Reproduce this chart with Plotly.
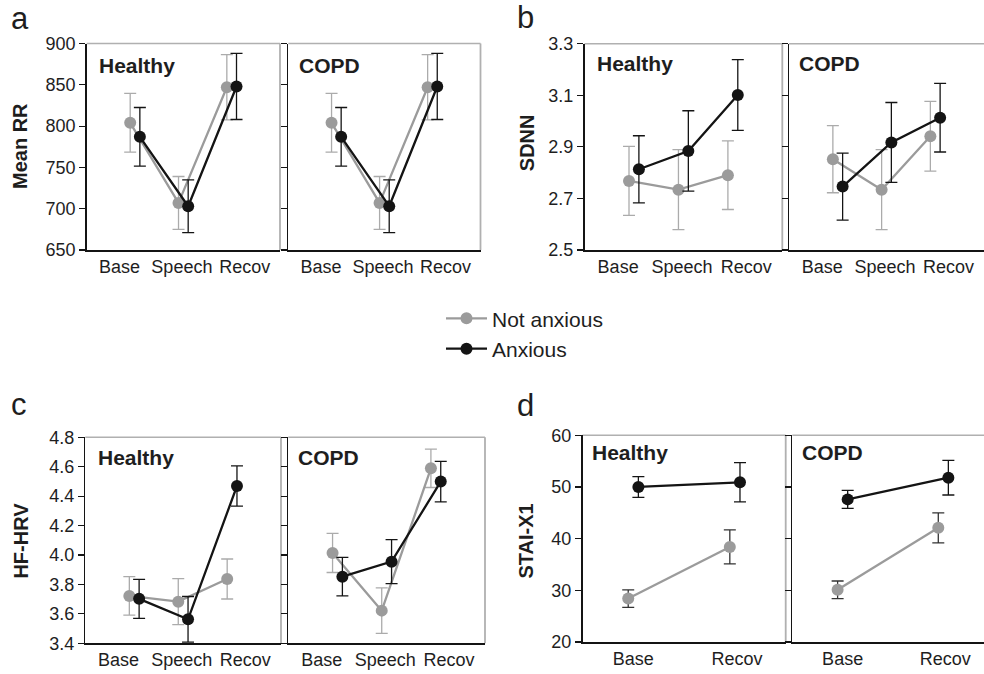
import plotly.graph_objects as go

# ---------------- data ----------------
cats3 = ["Base", "Speech", "Recov"]
cats2 = ["Base", "Recov"]
groups = ["Healthy", "COPD"]
series_names = ["Not anxious", "Anxious"]

# Mean RR
rr_healthy_not = [804, 707, 847]
rr_healthy_not_err = [35.5, 32, 39.5]
rr_healthy_anx = [787, 703, 848]
rr_healthy_anx_err = [35.5, 32, 40]
rr_copd_not = [804, 707, 847]
rr_copd_not_err = [35.5, 32, 39.5]
rr_copd_anx = [787, 703, 848]
rr_copd_anx_err = [35.5, 32, 40]

# SDNN
sdnn_healthy_not = [2.768, 2.734, 2.790]
sdnn_healthy_not_err = [0.134, 0.155, 0.133]
sdnn_healthy_anx = [2.813, 2.884, 3.101]
sdnn_healthy_anx_err = [0.130, 0.156, 0.137]
sdnn_copd_not = [2.852, 2.734, 2.941]
sdnn_copd_not_err = [0.130, 0.155, 0.135]
sdnn_copd_anx = [2.746, 2.917, 3.013]
sdnn_copd_anx_err = [0.130, 0.155, 0.133]

# HF-HRV
hf_healthy_not = [3.722, 3.683, 3.837]
hf_healthy_not_err = [0.131, 0.156, 0.136]
hf_healthy_anx = [3.702, 3.563, 4.469]
hf_healthy_anx_err = [0.132, 0.155, 0.137]
hf_copd_not = [4.014, 3.622, 4.589]
hf_copd_not_err = [0.133, 0.155, 0.130]
hf_copd_anx = [3.853, 3.955, 4.499]
hf_copd_anx_err = [0.131, 0.150, 0.138]

# STAI-X1
stai_healthy_not = [28.4, 38.4]
stai_healthy_not_err = [1.7, 3.3]
stai_healthy_anx = [50.0, 50.9]
stai_healthy_anx_err = [2.0, 3.8]
stai_copd_not = [30.1, 42.1]
stai_copd_not_err = [1.7, 2.9]
stai_copd_anx = [47.6, 51.8]
stai_copd_anx_err = [1.75, 3.35]

# y tick labels per measure
rr_ticks = [650, 700, 750, 800, 850, 900]
sdnn_ticks = [2.5, 2.7, 2.9, 3.1, 3.3]
hf_ticks = [3.4, 3.6, 3.8, 4.0, 4.2, 4.4, 4.6, 4.8]
stai_ticks = [20, 30, 40, 50, 60]

# ---------------- layout / style ----------------
W, H = 984, 674
FONT = "Liberation Sans, Arial, sans-serif"
GRAY = "#9b9b9b"
GRAY_ERR = "#ababab"
BLACK = "#141414"
FRAME = "#b0b0b0"
TXT = "#1e1e1e"
TICK_SIZE = 18


def fx(p):
    return p / W


def fy(p):
    return 1 - p / H


# subplot: (x px domain, y px domain, x range, measure key, group idx)
panels = [
    dict(x=(86.7, 280.0), y=(43.5, 250.0), xr=[-1, 3], m="rr", g=0),
    dict(x=(288.3, 480.5), y=(43.5, 250.0), xr=[-1, 3], m="rr", g=1),
    dict(x=(584.5, 782.3), y=(43.7, 250.0), xr=[-1, 3], m="sdnn", g=0),
    dict(x=(789.0, 984.0), y=(43.7, 250.0), xr=[-1, 3], m="sdnn", g=1, cut=True),
    dict(x=(85.3, 281.0), y=(437.3, 643.3), xr=[-1, 3], m="hf", g=0),
    dict(x=(288.3, 485.0), y=(437.3, 643.3), xr=[-1, 3], m="hf", g=1),
    dict(x=(582.5, 785.7), y=(435.3, 642.0), xr=[-0.5, 1.5], m="stai", g=0),
    dict(x=(792.3, 984.0), y=(435.3, 642.0), xr=[-0.5, 1.404], m="stai", g=1, cut=True),
]

measures = {
    "rr": dict(cats=cats3, ticks=rr_ticks, fmt="d", yr=[650, 900],
               data=[[(rr_healthy_not, rr_healthy_not_err), (rr_healthy_anx, rr_healthy_anx_err)],
                     [(rr_copd_not, rr_copd_not_err), (rr_copd_anx, rr_copd_anx_err)]]),
    "sdnn": dict(cats=cats3, ticks=sdnn_ticks, fmt=".1f", yr=[2.5, 3.3],
                 data=[[(sdnn_healthy_not, sdnn_healthy_not_err), (sdnn_healthy_anx, sdnn_healthy_anx_err)],
                       [(sdnn_copd_not, sdnn_copd_not_err), (sdnn_copd_anx, sdnn_copd_anx_err)]]),
    "hf": dict(cats=cats3, ticks=hf_ticks, fmt=".1f", yr=[3.4, 4.8],
               data=[[(hf_healthy_not, hf_healthy_not_err), (hf_healthy_anx, hf_healthy_anx_err)],
                     [(hf_copd_not, hf_copd_not_err), (hf_copd_anx, hf_copd_anx_err)]]),
    "stai": dict(cats=cats2, ticks=stai_ticks, fmt="d", yr=[20, 60],
                 data=[[(stai_healthy_not, stai_healthy_not_err), (stai_healthy_anx, stai_healthy_anx_err)],
                       [(stai_copd_not, stai_copd_not_err), (stai_copd_anx, stai_copd_anx_err)]]),
}

fig = go.Figure()
layout = dict(
    width=W, height=H, margin=dict(l=0, r=0, t=0, b=0, autoexpand=False),
    paper_bgcolor="white", plot_bgcolor="white",
    font=dict(family=FONT, color=TXT, size=TICK_SIZE),
    showlegend=True,
)
shapes = []
annotations = []

for i, p in enumerate(panels, start=1):
    m = measures[p["m"]]
    cats = m["cats"]
    n = len(cats)
    off = 0.1 if n == 3 else 0.05
    xa = "x" if i == 1 else f"x{i}"
    ya = "y" if i == 1 else f"y{i}"
    (vals_n, err_n), (vals_a, err_a) = m["data"][p["g"]]
    err_col_n = GRAY_ERR if p["m"] != "stai" else "#333333"
    for k, (vals, err, col, ecol) in enumerate([
        (vals_n, err_n, GRAY, err_col_n),
        (vals_a, err_a, BLACK, BLACK),
    ]):
        fig.add_trace(go.Scatter(
            x=[j + (off if k else -off) for j in range(n)],
            y=vals,
            mode="lines+markers",
            name=series_names[k],
            legendgroup=series_names[k],
            showlegend=(i == 1),
            line=dict(color=col, width=2.3),
            marker=dict(color=col, size=12),
            error_y=dict(type="data", array=err, color=ecol, thickness=1.3, width=6),
            xaxis=xa, yaxis=ya, cliponaxis=False,
        ))
    if n == 3:
        tickvals = [-0.32, 0.97, 2.27]
    else:
        tickvals = [0.0, 1.02]
    layout[f"xaxis{i if i > 1 else ''}"] = dict(
        domain=[fx(p["x"][0]), fx(p["x"][1])], range=p["xr"], anchor=ya,
        showgrid=False, zeroline=False, showline=True, linecolor=BLACK, linewidth=1.5,
        ticks="", tickvals=tickvals, ticktext=cats, tickfont=dict(size=TICK_SIZE, color=TXT),
        fixedrange=True, automargin=False,
    )
    layout[f"yaxis{i if i > 1 else ''}"] = dict(
        domain=[fy(p["y"][1]), fy(p["y"][0])], range=m["yr"], anchor=xa,
        showgrid=False, zeroline=False, showline=True, linecolor=BLACK, linewidth=1.5,
        ticks="outside", ticklen=6, tickwidth=1.2, tickcolor=BLACK,
        tickvals=m["ticks"], tickformat=m["fmt"],
        showticklabels=(p["g"] == 0), tickfont=dict(size=TICK_SIZE, color=TXT),
        fixedrange=True, automargin=False,
    )
    # gray frame top / right
    shapes.append(dict(type="line", xref=f"{xa} domain", yref=f"{ya} domain",
                       x0=0, x1=1, y0=1, y1=1, line=dict(color=FRAME, width=1.5), layer="below"))
    if not p.get("cut"):
        shapes.append(dict(type="line", xref=f"{xa} domain", yref=f"{ya} domain",
                           x0=1, x1=1, y0=0, y1=1, line=dict(color=FRAME, width=1.8), layer="below"))

# group labels (Healthy / COPD)
glabels = [(97.3, 65.2), (296.7, 65.2), (594.5, 63.2), (796.7, 63.2),
           (96.0, 457.5), (296.0, 457.5), (590.0, 452.5), (800.0, 452.5)]
for i, (gx, gy) in enumerate(glabels):
    annotations.append(dict(text=f"<b>{groups[panels[i]['g']]}</b>", x=fx(gx), y=fy(gy),
                            xref="paper", yref="paper", xanchor="left", yanchor="middle",
                            showarrow=False, font=dict(size=21, color=TXT)))

# panel letters
for letter, (lx, ly) in zip(["a", "b", "c", "d"], [(20, 18), (525.5, 17), (19, 404), (525.5, 405)]):
    annotations.append(dict(text=letter, x=fx(lx), y=fy(ly), xref="paper", yref="paper",
                            xanchor="center", yanchor="middle", showarrow=False,
                            font=dict(size=31, color=TXT)))

# y titles
for t, (tx, ty) in zip(["Mean RR", "SDNN", "HF-HRV", "STAI-X1"],
                       [(20, 146), (526.7, 142.5), (20.8, 540.8), (525.8, 540.8)]):
    annotations.append(dict(text=f"<b>{t}</b>", x=fx(tx), y=fy(ty), xref="paper", yref="paper",
                            xanchor="center", yanchor="middle", textangle=-90, showarrow=False,
                            font=dict(size=20, color=TXT)))

layout["shapes"] = shapes
layout["annotations"] = annotations
layout["legend"] = dict(x=fx(441), y=fy(333.7), xanchor="left", yanchor="middle",
                        bgcolor="rgba(0,0,0,0)", borderwidth=0, itemwidth=41,
                        font=dict(size=21, color=TXT), tracegroupgap=0)
fig.update_layout(**layout)
fig.write_html(
    "out.html",
    config={"displayModeBar": False, "staticPlot": True},
    post_script="document.body.style.margin='0';document.body.style.overflow='hidden';",
)
